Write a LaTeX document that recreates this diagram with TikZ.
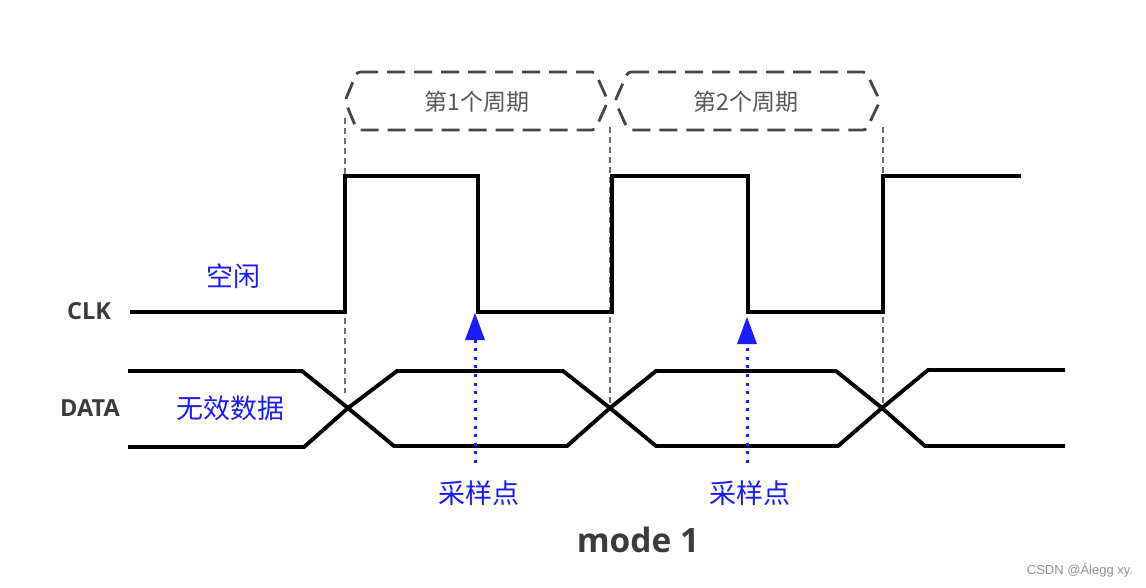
\documentclass[tikz,border=0pt]{standalone}
\usepackage{fontspec}
\setmainfont{Liberation Sans}
\newfontfamily\cjk{Noto Sans CJK SC}
\newfontfamily\osans{Open Sans}
\usetikzlibrary{arrows.meta}
\definecolor{sigblue}{RGB}{28,28,250}
\definecolor{lblgray}{RGB}{60,60,60}
\definecolor{boxgray}{RGB}{70,70,70}
\definecolor{guidegray}{RGB}{110,110,110}
\tikzset{
  wave/.style={line width=3.9pt, black, line join=miter},
  guide/.style={guidegray, line width=1.3pt, dash pattern=on 6pt off 4pt},
  period/.style={boxgray, line width=2.8pt, dash pattern=on 18pt off 9pt, rounded corners=3pt},
  sig/.style={font=\osans\bfseries\fontsize{23.5}{26}\selectfont, text=lblgray, inner sep=0pt},
  bluelbl/.style={font=\cjk\fontsize{27}{30}\selectfont, text=sigblue, inner sep=0pt},
  periodlbl/.style={font=\cjk\fontsize{23}{26}\selectfont, text=boxgray!90, inner sep=0pt},
  samplearrow/.style={sigblue, line width=3pt, dash pattern=on 3pt off 5.6pt},
  samplehead/.style={fill=sigblue, draw=none}
}
\begin{document}
\begin{tikzpicture}[x=1pt,y=-1pt]
\useasboundingbox (0,0) rectangle (1146,587);
\fill[white] (0,0) rectangle (1146,587);

% guide lines
\draw[guide] (345,118) -- (345,393);
\draw[guide] (610,127) -- (610,404);
\draw[guide] (883,127) -- (883,404);

% period boxes
\draw[period] (357,72) -- (595,72) -- (608,101) -- (595,130) -- (357,130) -- (345,101) -- cycle;
\draw[period] (628,72) -- (866,72) -- (880,101) -- (866,130) -- (628,130) -- (615,101) -- cycle;
\node[periodlbl] (p1) at (477,102) {第1个周期};
\node[periodlbl] (p2) at (746,102) {第2个周期};

% CLK waveform
\draw[wave] (130,312) -- (345,312) -- (345,176) -- (478,176) -- (478,312) -- (612,312) -- (612,176)
  -- (748,176) -- (748,312) -- (883,312) -- (883,176) -- (1021,176);

% DATA waveform
\draw[wave] (128,371) -- (302,371) -- (348,408) -- (394,446) -- (567,446) -- (610,408) -- (656,371)
  -- (836,371) -- (882,408) -- (925,446) -- (1065,446);
\draw[wave] (128,447) -- (304,447) -- (348,408) -- (397,371) -- (563,371) -- (610,408) -- (656,446)
  -- (838,446) -- (882,408) -- (928,370) -- (1065,370);

% labels
\node[sig] (clk) at (89,311) {CLK};
\node[sig] (data) at (90,408) {DATA};
\node[bluelbl] (idle) at (233,276) {空闲};
\node[bluelbl] (inv) at (230,408) {无效数据};
\node[bluelbl] (s1) at (479,493) {采样点};
\node[bluelbl] (s2) at (750,493) {采样点};

% sample arrows
\coordinate (a1b) at (475,463);
\coordinate (a1t) at (475,340);
\coordinate (a1tip) at (475,313);
\coordinate (a2b) at (747,463);
\coordinate (a2t) at (747,344);
\coordinate (a2tip) at (747,317);
\draw[samplearrow] (a1b) -- (a1t);
\draw[samplearrow] (a2b) -- (a2t);
\fill[samplehead] (a1tip) -- ([xshift=-10pt]a1t) -- ([xshift=10pt]a1t) -- cycle;
\fill[samplehead] (a2tip) -- ([xshift=-10pt]a2t) -- ([xshift=10pt]a2t) -- cycle;

% title and watermark
\node[font=\osans\bfseries\fontsize{33.5}{38}\selectfont, text=lblgray, inner sep=0pt] (mode) at (638,540) {mode 1};
\node[font=\fontsize{13}{15}\selectfont, text=gray!85, inner sep=0pt] (wm) at (1080,570) {CSDN @Álegg xy.};
\end{tikzpicture}
\end{document}
